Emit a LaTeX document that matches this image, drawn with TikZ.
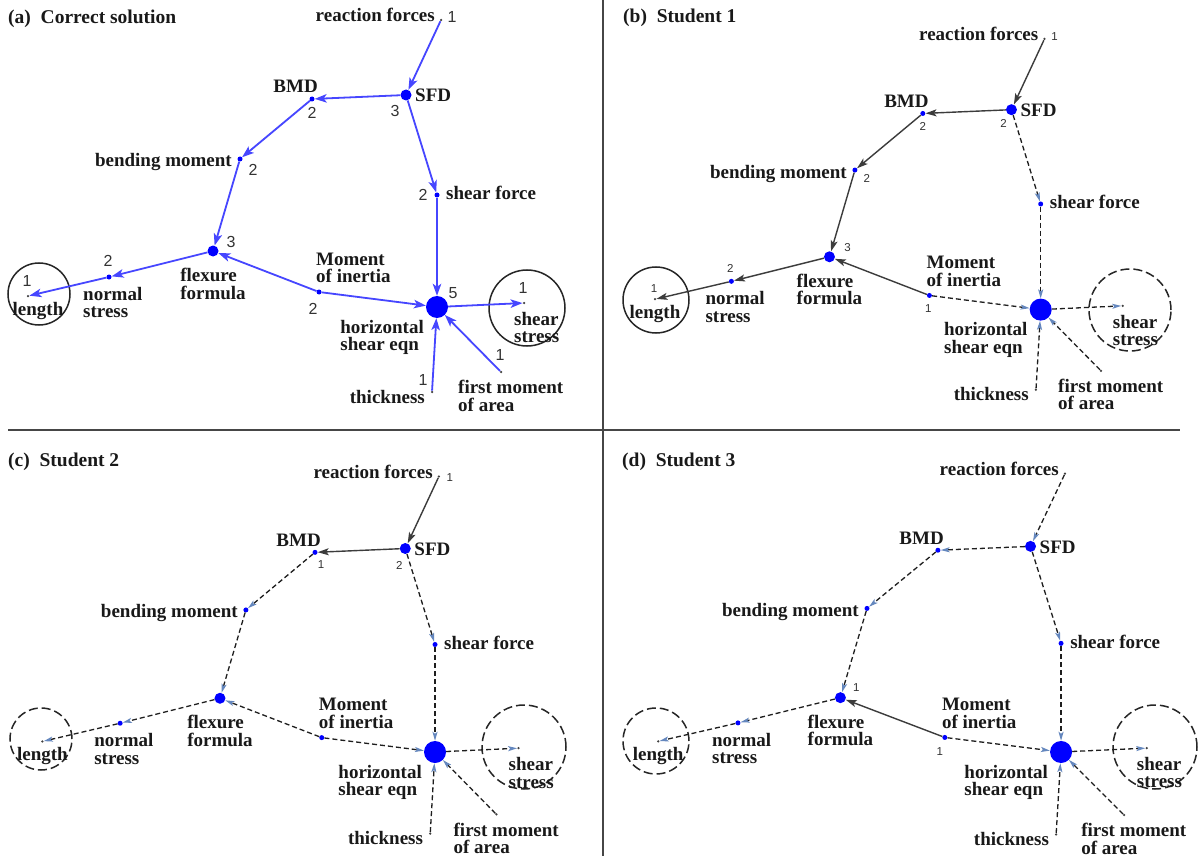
\documentclass[tikz,border=0pt]{standalone}
\usepackage{fontspec}
\setmainfont{Liberation Serif}
\newfontfamily\numfont{Liberation Sans}
\usetikzlibrary{arrows.meta,calc}
\definecolor{bline}{RGB}{70,70,255}
\definecolor{bdot}{RGB}{0,0,255}
\definecolor{sline}{RGB}{60,60,60}
\definecolor{dline}{RGB}{30,30,30}
\definecolor{steel}{RGB}{100,135,190}
\definecolor{framec}{RGB}{70,70,70}
\tikzset{
 dtiny/.style={circle, fill=black!75, inner sep=0pt, minimum size=2.5pt},
 dsmall/.style={circle, fill=bdot, inner sep=0pt, minimum size=5pt},
 dbig/.style={circle, fill=bdot, inner sep=0pt, minimum size=11pt},
 dhuge/.style={circle, fill=bdot, inner sep=0pt, minimum size=22pt},
 lbl/.style={font=\fontsize{19}{17.5}\selectfont\bfseries, inner sep=0pt, align=left, text=black!90},
 ttl/.style={font=\fontsize{19.5}{20}\selectfont\bfseries, inner sep=0pt, text=black!90},
 numa/.style={font=\numfont\fontsize{16}{16}\selectfont, inner sep=0pt, text=black!80},
 nums/.style={font=\numfont\fontsize{11.5}{12}\selectfont, inner sep=0pt, text=black!80},
 ea/.style={draw=bline, line width=1.8pt, -{Stealth[length=12pt,width=8.5pt,inset=3pt]}},
 es/.style={draw=sline, line width=1.4pt, -{Stealth[length=11pt,width=7pt,inset=2.5pt]}},
 ed/.style={draw=dline, line width=1.3pt, dash pattern=on 5pt off 3pt, -{Stealth[length=9pt,width=5pt,inset=2pt,color=steel]}},
 ringS/.style={circle, draw=black!85, line width=1.5pt, inner sep=0pt},
 ringD/.style={circle, draw=black!85, line width=1.5pt, inner sep=0pt, dash pattern=on 9pt off 4pt},
 frameline/.style={draw=framec, line width=1.5pt},
}
\newcommand\pfx{}
\newcommand\nd[4]{\node[#2] (\pfx#1) at ({\sx*(#3)+\ox},{\sy*(#4)+\oy}) {};}
\newcommand\lb[5]{\node[lbl,anchor=#2] (\pfx#1L) at ($(\pfx#1)+(#3,#4)$) {#5};}
\newcommand\nm[5]{\node[#2] (\pfx#1N) at ($(\pfx#1)+(#3,#4)$) {#5};}
\newcommand\E[3]{\draw[#1] (\pfx#2) -- (\pfx#3);}
\newcommand\mknodes{%
 \nd{rf}{dtiny}{441}{20}
 \nd{sfd}{dbig}{406}{95}
 \nd{bmd}{dsmall}{312}{99}
 \nd{sf}{dsmall}{437}{195}
 \nd{bm}{dsmall}{240}{159}
 \nd{ff}{dbig}{213}{251}
 \nd{ns}{dsmall}{109}{277}
 \nd{len}{dtiny}{28}{296}
 \nd{mi}{dsmall}{319}{292}
 \nd{hse}{dhuge}{437}{307}
 \nd{ss}{dtiny}{524}{303}
 \nd{th}{dtiny}{432}{392}
 \nd{fm}{dtiny}{501}{372}
}
\newcommand\mklabels[1]{%
 \lb{rf}{base east}{-6}{2}{reaction forces}
 \lb{sfd}{base west}{9}{7}{SFD}
 \lb{bmd}{base east}{6}{-6}{BMD}
 \lb{sf}{base west}{9}{5}{shear force}
 \lb{bm}{base east}{-8}{8}{bending moment}
 \lb{ff}{north}{0}{17}{flexure\\formula}
 \lb{ns}{north west}{-26}{10}{normal\\stress}
 \lb{len}{north}{#1}{6}{length}
 \lb{mi}{south west}{-3}{-9}{Moment\\of inertia}
 \lb{hse}{north east}{-13}{13}{horizontal\\shear eqn}
 \lb{ss}{north west}{-10}{9}{shear\\stress}
 \lb{th}{base east}{-7}{11}{thickness}
 \lb{fm}{north west}{-43}{8}{first moment\\of area}
}
\begin{document}
\begin{tikzpicture}[x=1pt,y=-1pt]
\useasboundingbox (0,0) rectangle (1203,856);
\fill[white] (0,0) rectangle (1203,856);
% frame
\coordinate (v1) at (603,0); \coordinate (v2) at (603,856);
\coordinate (h1) at (8,430); \coordinate (h2) at (1180,430);
\draw[frameline] (v1) -- (v2);
\draw[frameline] (h1) -- (h2);
% titles
\node[ttl,anchor=west] (ta) at (8,19) {(a)\ \ Correct solution};
\node[ttl,anchor=west] (tb) at (623,18) {(b)\ \ Student 1};
\node[ttl,anchor=west] (tc) at (8,462) {(c)\ \ Student 2};
\node[ttl,anchor=west] (td) at (622,462) {(d)\ \ Student 3};
% circles
\node[ringS, minimum size=62pt] (aC1) at (39,294) {};
\node[ringS, minimum size=76pt] (aC2) at (527,308) {};
\node[ringS, minimum size=66pt] (bC1) at (656,300) {};
\node[ringD, minimum size=82pt] (bC2) at (1130,310) {};
\node[ringD, minimum size=62pt] (cC1) at (41,739) {};
\node[ringD, minimum size=84pt] (cC2) at (524,747) {};
\node[ringD, minimum size=66pt] (dC1) at (656,741) {};
\node[ringD, minimum size=84pt] (dC2) at (1155,747) {};
% ---------------- panel a
\def\pfx{a}\def\sx{1}\def\sy{1}\def\ox{0}\def\oy{0}
\mknodes
\mklabels{10}
\nm{rf}{numa}{11}{-3}{1}
\nm{sfd}{numa}{-11}{16}{3}
\nm{bmd}{numa}{0}{14}{2}
\nm{sf}{numa}{-14}{0}{2}
\nm{bm}{numa}{13}{11}{2}
\nm{ff}{numa}{18}{-9}{3}
\nm{ns}{numa}{-1}{-16}{2}
\nm{len}{numa}{-1}{-15}{1}
\nm{mi}{numa}{-6}{17}{2}
\nm{hse}{numa}{16}{-14}{5}
\nm{ss}{numa}{-1}{-15}{1}
\nm{th}{numa}{-9}{-12}{1}
\nm{fm}{numa}{-1}{-17}{1}
\E{ea}{rf}{sfd} \E{ea}{sfd}{bmd} \E{ea}{sfd}{sf} \E{ea}{bmd}{bm}
\E{ea}{bm}{ff} \E{ea}{mi}{ff} \E{ea}{ff}{ns} \E{ea}{ns}{len}
\E{ea}{sf}{hse} \E{ea}{mi}{hse} \E{ea}{th}{hse} \E{ea}{fm}{hse} \E{ea}{hse}{ss}
% ---------------- panel b
\def\pfx{b}\def\sx{0.943}\def\sy{0.943}\def\ox{628.6}\def\oy{20.1}
\mknodes
\mklabels{0}
\nm{rf}{nums}{10}{-2}{1}
\nm{sfd}{nums}{-8}{14}{2}
\nm{bmd}{nums}{0}{13}{2}
\nm{bm}{nums}{12}{8}{2}
\nm{ff}{nums}{18}{-9}{3}
\nm{ns}{nums}{-1}{-13}{2}
\nm{len}{nums}{-1}{-11}{1}
\nm{mi}{nums}{-1}{13}{1}
\E{es}{rf}{sfd} \E{es}{sfd}{bmd} \E{ed}{sfd}{sf} \E{es}{bmd}{bm}
\E{es}{bm}{ff} \E{es}{mi}{ff} \E{es}{ff}{ns} \E{es}{ns}{len}
\E{ed}{sf}{hse} \E{ed}{mi}{hse} \E{ed}{th}{hse} \E{ed}{fm}{hse} \E{ed}{hse}{ss}
% ---------------- panel c
\def\pfx{c}\def\sx{0.96}\def\sy{0.96}\def\ox{15.5}\def\oy{457.3}
\mknodes
\mklabels{0}
\nm{rf}{nums}{11}{1}{1}
\nm{sfd}{nums}{-6}{17}{2}
\nm{bmd}{nums}{6}{12}{1}
\E{es}{rf}{sfd} \E{es}{sfd}{bmd} \E{ed}{sfd}{sf} \E{ed}{bmd}{bm}
\E{ed}{bm}{ff} \E{ed}{mi}{ff} \E{ed}{ff}{ns} \E{ed}{ns}{len}
\E{ed}{sf}{hse} \E{ed}{mi}{hse} \E{ed}{th}{hse} \E{ed}{fm}{hse} \E{ed}{hse}{ss}
% ---------------- panel d
\def\pfx{d}\def\sx{0.985}\def\sy{0.97}\def\ox{630.6}\def\oy{454.2}
\mknodes
\mklabels{0}
\nm{ff}{nums}{16}{-10}{1}
\nm{mi}{nums}{-5}{14}{1}
\E{ed}{rf}{sfd} \E{ed}{sfd}{bmd} \E{ed}{sfd}{sf} \E{ed}{bmd}{bm}
\E{ed}{bm}{ff} \E{es}{mi}{ff} \E{ed}{ff}{ns} \E{ed}{ns}{len}
\E{ed}{sf}{hse} \E{ed}{mi}{hse} \E{ed}{th}{hse} \E{ed}{fm}{hse} \E{ed}{hse}{ss}
\end{tikzpicture}
\end{document}
